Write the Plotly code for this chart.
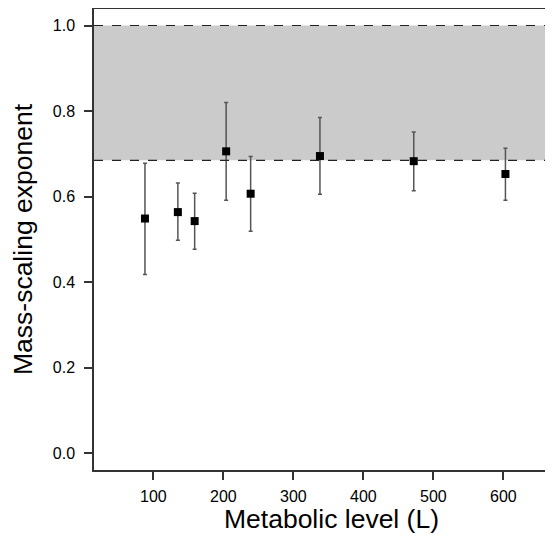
import plotly.graph_objects as go

levels = [88, 135, 159, 204, 239, 338, 472, 603]
exponent = [0.549, 0.564, 0.543, 0.706, 0.607, 0.695, 0.683, 0.653]
upper = [0.678, 0.632, 0.608, 0.820, 0.694, 0.785, 0.751, 0.713]
lower = [0.418, 0.498, 0.477, 0.592, 0.519, 0.606, 0.614, 0.592]
band_low = 0.685
band_high = 1.0
x_ticks = [100, 200, 300, 400, 500, 600]
y_ticks = [0.0, 0.2, 0.4, 0.6, 0.8, 1.0]

err_plus = [u - e for u, e in zip(upper, exponent)]
err_minus = [e - l for e, l in zip(exponent, lower)]

fig = go.Figure()
fig.add_shape(type="rect", xref="paper", yref="y", x0=0, x1=1, y0=band_low, y1=band_high,
              fillcolor="#cbcbcb", line_width=0, layer="below")
for yv in (band_low, band_high):
    fig.add_shape(type="line", xref="paper", yref="y", x0=0, x1=1, y0=yv, y1=yv,
                  line=dict(color="#222222", width=1.2, dash="dash"))

fig.add_trace(go.Scatter(
    x=levels, y=exponent, mode="markers",
    marker=dict(symbol="square", size=8, color="black"),
    error_y=dict(type="data", symmetric=False, array=err_plus, arrayminus=err_minus,
                 color="#555555", thickness=1.5, width=2),
    showlegend=False,
))

font = "Liberation Sans, Arial, Helvetica, sans-serif"
fig.update_layout(
    width=561, height=526,
    margin=dict(l=86, r=0, t=1, b=64),
    plot_bgcolor="white", paper_bgcolor="white",
    font=dict(family=font, color="black"),
    xaxis=dict(range=[15.2, 693.8], tickvals=x_ticks, ticks="outside", ticklen=8,
               tickwidth=1.5, tickcolor="#333333", showline=True, linecolor="#333333",
               linewidth=1.5, mirror=True, showgrid=False, zeroline=False,
               automargin=False, ticklabelstandoff=3,
               tickfont=dict(size=16, family=font),
               title=dict(text="Metabolic level (L)", font=dict(size=26.5, family=font), standoff=11)),
    yaxis=dict(range=[-0.0386, 1.0386], tickvals=y_ticks, tickformat=".1f", ticks="outside",
               ticklen=8, tickwidth=1.5, tickcolor="#333333", showline=True,
               linecolor="#333333", linewidth=1.5, showgrid=False, zeroline=False,
               automargin=False, ticklabelstandoff=6,
               tickfont=dict(size=16, family=font),
               title=dict(text="Mass-scaling exponent", font=dict(size=26.5, family=font), standoff=16)),
)

fig.write_html("out.html")
